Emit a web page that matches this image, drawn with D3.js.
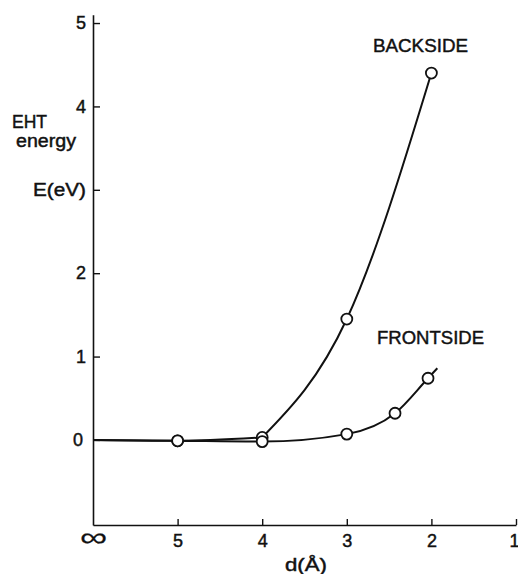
<!DOCTYPE html>
<html>
<head>
<meta charset="utf-8">
<script src="https://cdn.jsdelivr.net/npm/d3@7/dist/d3.min.js"></script>
<style>
  html, body { margin: 0; padding: 0; background: #fff; }
  svg { display: block; }
  text { font-family: "Liberation Sans", Arial, sans-serif; fill: #111; stroke: #111; stroke-width: 0.45px; }
</style>
</head>
<body>
<svg id="chart" width="518" height="574"></svg>
<script>
// ---- data ----
const xTickValues = [6, 5, 4, 3, 2, 1];          // 6 stands for d = infinity
const xTickLabels = ["∞", "5", "4", "3", "2", "1"];
const yTickValues = [0, 1, 2, 3, 4, 5];
const yTickLabels = ["0", "1", "2", "E(eV)", "4", "5"];

const backsideD      = [6, 5, 4, 3, 2];
const backsideE      = [0, -0.01, 0.03, 1.45, 4.40];
const backsideMarked = [false, true, true, true, true];

const frontsideD      = [6, 5, 4, 3, 2.43, 2.04, 1.93];
const frontsideE      = [0, -0.01, -0.02, 0.07, 0.32, 0.74, 0.86];
const frontsideMarked = [false, true, true, true, true, true, false];

const seriesLabels = ["BACKSIDE", "FRONTSIDE"];
const yTitle = ["EHT", "energy"];
const xTitle = "d(Å)";

// ---- scales ----
const svg = d3.select("#chart");
const x = d3.scaleLinear().domain([6, 1]).range([93, 516]);
const y = d3.scaleLinear().domain([-1.02, 5.1]).range([525, 14.7]);

const ink = "#111";
const font = '"Liberation Sans", Arial, sans-serif';

// ---- axes ----
const gx = svg.append("g").attr("transform", `translate(0,${y(-1.02)})`)
  .call(d3.axisBottom(x).tickValues(xTickValues)
    .tickFormat((d, i) => xTickLabels[i]).tickSizeInner(-6).tickSizeOuter(0).tickPadding(9));
gx.select(".domain").attr("stroke", ink).attr("stroke-width", 1.6);
gx.selectAll(".tick line").attr("stroke", ink).attr("stroke-width", 1.4);
gx.selectAll(".tick text").attr("font-size", 18).attr("fill", ink).style("font-family", font);
gx.selectAll(".tick").filter(d => d === 6).select("line").remove();
gx.selectAll(".tick").filter(d => d === 6).select("text")
  .attr("font-size", 26).attr("dy", "0.45em").style("stroke-width", "0.2px")
  .attr("textLength", 27).attr("lengthAdjust", "spacingAndGlyphs");
gx.selectAll(".tick").filter(d => d === 1).select("text")
  .attr("text-anchor", "end").attr("dx", 3);

const gy = svg.append("g").attr("transform", `translate(${x(6)},0)`)
  .call(d3.axisLeft(y).tickValues(yTickValues)
    .tickFormat((d, i) => yTickLabels[i]).tickSizeInner(-7).tickSizeOuter(0).tickPadding(7));
gy.select(".domain").attr("stroke", ink).attr("stroke-width", 1.6);
gy.selectAll(".tick line").attr("stroke", ink).attr("stroke-width", 1.4);
gy.selectAll(".tick text").attr("font-size", 18).attr("fill", ink).style("font-family", font);
gy.selectAll(".tick").filter(d => d === 0).select("text").attr("dx", -3);
gy.selectAll(".tick").filter(d => d === 3).select("text")
  .attr("textLength", 53).attr("lengthAdjust", "spacingAndGlyphs");

// ---- titles ----
svg.append("text").attr("x", 12).attr("y", 128).attr("font-size", 18)
  .attr("textLength", 35).attr("lengthAdjust", "spacingAndGlyphs").text(yTitle[0]);
svg.append("text").attr("x", 16).attr("y", 147).attr("font-size", 18)
  .attr("textLength", 60).attr("lengthAdjust", "spacingAndGlyphs").text(yTitle[1]);
svg.append("text").attr("x", 285).attr("y", 571).attr("font-size", 18)
  .attr("textLength", 42).attr("lengthAdjust", "spacingAndGlyphs").text(xTitle);

svg.append("text").attr("x", 373).attr("y", 52).attr("font-size", 19)
  .attr("textLength", 95).attr("lengthAdjust", "spacingAndGlyphs").text(seriesLabels[0]);
svg.append("text").attr("x", 377).attr("y", 344).attr("font-size", 19)
  .attr("textLength", 107).attr("lengthAdjust", "spacingAndGlyphs").text(seriesLabels[1]);

// ---- curves ----
const flatLine = d3.line().x(p => x(p.d)).y(p => y(p.e)).curve(d3.curveMonotoneX);
const riseLine = d3.line().x(p => x(p.d)).y(p => y(p.e)).curve(d3.curveNatural);

const back = backsideD.map((d, i) => ({ d, e: backsideE[i], m: backsideMarked[i] }));
const front = frontsideD.map((d, i) => ({ d, e: frontsideE[i], m: frontsideMarked[i] }));

// backside: flat run up to d = 4, then a smooth rise through the remaining points
const backFlat = back.filter(p => p.d >= 4);
const backRise = back.filter(p => p.d <= 4);
[[backFlat, flatLine], [backRise, riseLine], [front, flatLine]].forEach(([pts, gen]) => {
  svg.append("path").datum(pts).attr("d", gen)
    .attr("fill", "none").attr("stroke", ink).attr("stroke-width", 2);
});

[back, front].forEach(pts => {
  svg.append("g").selectAll("circle").data(pts.filter(p => p.m)).join("circle")
    .attr("cx", p => x(p.d)).attr("cy", p => y(p.e)).attr("r", 5.5)
    .attr("fill", "#fff").attr("stroke", ink).attr("stroke-width", 1.8);
});
</script>
</body>
</html>
